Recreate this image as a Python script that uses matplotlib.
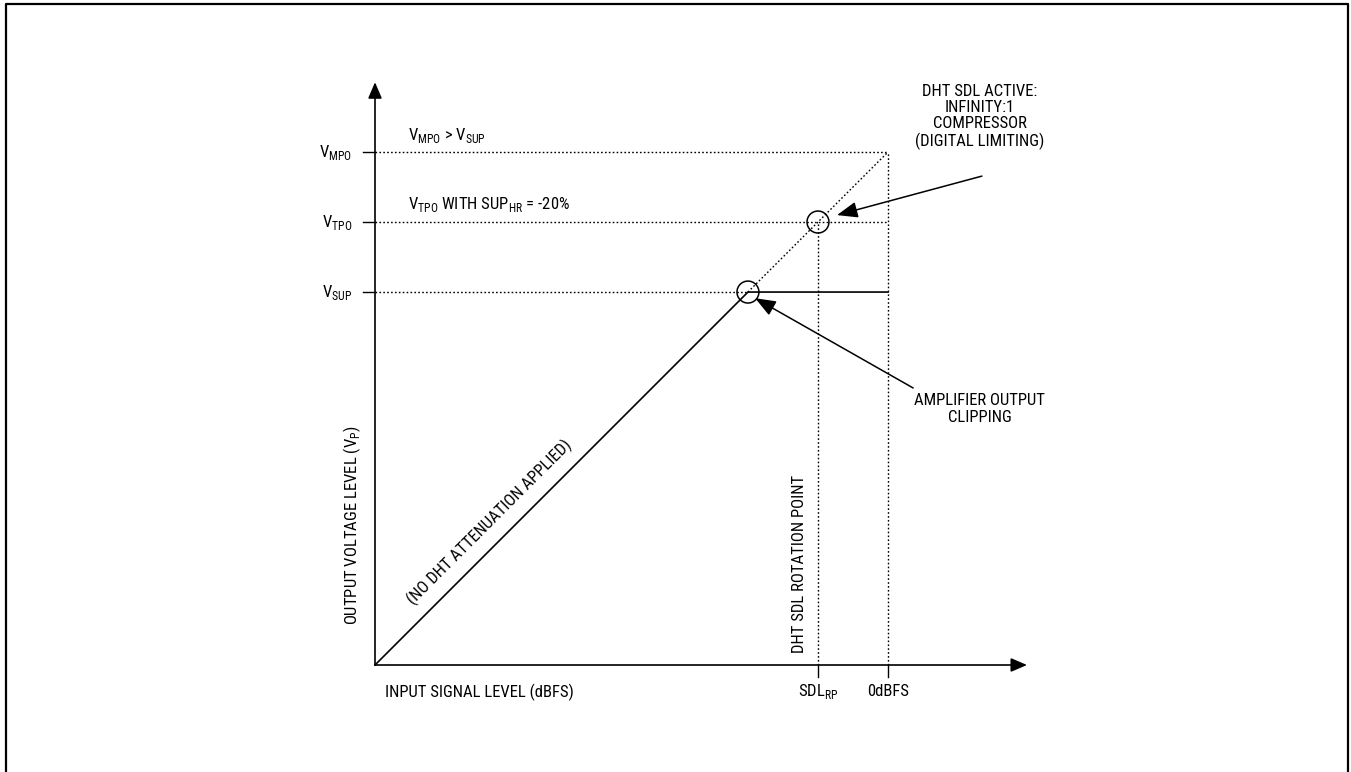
import matplotlib
matplotlib.use("Agg")
import matplotlib.pyplot as plt
from matplotlib.lines import Line2D
from matplotlib.patches import Circle

FONT = ['Roboto Condensed', 'Liberation Sans', 'DejaVu Sans']
plt.rcParams['font.family'] = FONT
plt.rcParams['mathtext.fontset'] = 'custom'
plt.rcParams['mathtext.rm'] = 'Roboto Condensed'

# ---- schematic data (normalised units: 0dBFS / V_MPO = 1) ----
level_names = ['V$_{\\mathrm{SUP}}$', 'V$_{\\mathrm{TPO}}$', 'V$_{\\mathrm{MPO}}$']
level_values = [0.727, 0.8635, 1.0]
xtick_names = ['SDL$_{\\mathrm{RP}}$', '0dBFS']
xtick_values = [0.8635, 1.0]
curve_x = [0.0, 0.727, 1.0]
curve_y = [0.0, 0.727, 0.727]
ideal_x = [0.727, 1.0]
ideal_y = [0.727, 1.0]

W, H = 1351, 772
fig = plt.figure(figsize=(W / 100, H / 100), dpi=100)
ox, oy, unit = 375, 665, 513
ax = fig.add_axes([0, 0, 1, 1])
ax.set_xlim(-ox / unit, (W - ox) / unit)
ax.set_ylim(-(H - oy) / unit, oy / unit)
ax.axis('off')

# figure border (open at the bottom)
fig.add_artist(Line2D([6 / W, 6 / W, 1348 / W, 1348 / W],
                      [-0.01, (H - 4) / H, (H - 4) / H, -0.01],
                      transform=fig.transFigure, color='black', lw=1.6))

FS = 12
dot = dict(color='black', lw=1.0, linestyle=(0, (1.2, 1.6)))

# axes with arrowheads
arrow_kw = dict(arrowstyle='-|>,head_length=0.7,head_width=0.3', color='black',
                lw=1.2, mutation_scale=14, shrinkA=0, shrinkB=0)
ax.annotate('', xy=(0, 1.136), xytext=(0, 0), arrowprops=arrow_kw)
ax.annotate('', xy=(1.271, 0), xytext=(0, 0), arrowprops=arrow_kw)

# y level ticks, labels and dotted guides
tick = 0.0234
guide_end = [ideal_x[0], xtick_values[1], xtick_values[1]]
for name, v, xe in zip(level_names, level_values, guide_end):
    ax.plot([-tick, 0], [v, v], color='black', lw=1.0)
    ax.plot([0, xe], [v, v], **dot)
    ax.text(-0.045, v, name, ha='right', va='center', fontsize=FS)

# x ticks, labels and dotted verticals
for name, v in zip(xtick_names, xtick_values):
    ax.plot([v, v], [0, -tick], color='black', lw=1.0)
    top = level_values[1] if v < 1 else level_values[2]
    ax.plot([v, v], [0, top], **dot)
    ax.text(v, -0.0526, name, ha='center', va='center', fontsize=FS)

# transfer curve
ax.plot(curve_x, curve_y, color='black', lw=1.2)
ax.plot(ideal_x, ideal_y, **dot)

# circles
for c in [(level_values[0], level_values[0]), (level_values[1], level_values[1])]:
    ax.add_patch(Circle(c, 0.0214, fill=False, lw=1.1, color='black'))

# callout arrows
call_kw = dict(arrowstyle='-|>,head_length=0.9,head_width=0.35', color='black',
               lw=1.1, mutation_scale=14, shrinkA=0, shrinkB=0)
ax.annotate('', xy=(0.9006, 0.877), xytext=(1.183, 0.953), arrowprops=call_kw)
ax.annotate('', xy=(0.741, 0.715), xytext=(1.049, 0.540), arrowprops=call_kw)

# texts
ax.text(1.179, 1.069, 'DHT SDL ACTIVE:\nINFINITY:1\nCOMPRESSOR\n(DIGITAL LIMITING)',
        ha='center', va='center', fontsize=FS, linespacing=1.1)
ax.text(1.179, 0.499, 'AMPLIFIER OUTPUT\nCLIPPING', ha='center', va='center',
        fontsize=FS, linespacing=1.1)
ax.text(0.0643, 1.033, 'V$_{\\mathrm{MPO}}$ > V$_{\\mathrm{SUP}}$', ha='left', va='center', fontsize=FS)
ax.text(0.0643, 0.8986, 'V$_{\\mathrm{TPO}}$ WITH SUP$_{\\mathrm{HR}}$ = -20%', ha='left', va='center', fontsize=FS)
ax.text(0.224, 0.279, '(NO DHT ATTENUATION APPLIED)', rotation=45, ha='center', va='center',
        fontsize=FS, rotation_mode='anchor')
ax.text(0.828, 0.197, 'DHT SDL ROTATION POINT', rotation=90, ha='center', va='center', fontsize=FS)
ax.text(-0.045, 0.273, 'OUTPUT VOLTAGE LEVEL (V$_{\\mathrm{P}}$)', rotation=90, ha='center',
        va='center', fontsize=FS)
ax.text(0.0195, -0.0526, 'INPUT SIGNAL LEVEL (dBFS)', ha='left', va='center', fontsize=FS)

fig.savefig('out.png', dpi=100)
